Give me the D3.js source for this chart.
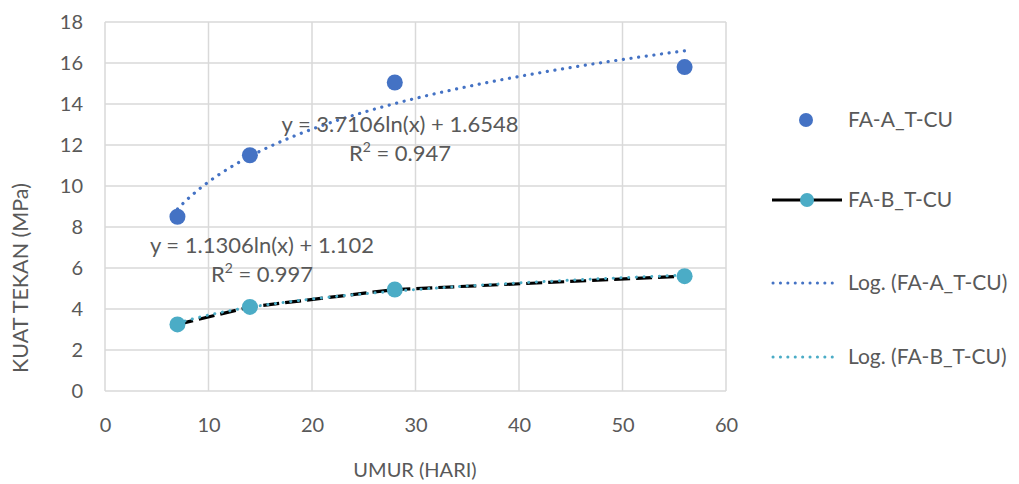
<!DOCTYPE html>
<html>
<head>
<meta charset="utf-8">
<script src="https://cdn.jsdelivr.net/npm/d3@7"></script>
<style>
  body { margin: 0; background: #fff; }
  text { font-family: Lato, "Open Sans", sans-serif; fill: #595959; }
</style>
</head>
<body>
<div class="chart"></div>
<script>
// Data
var days = [7, 14, 28, 56];
var faA = [8.5, 11.5, 15.05, 15.8];
var faB = [3.25, 4.1, 4.95, 5.6];
var xTicks = [0, 10, 20, 30, 40, 50, 60];
var yTicks = [0, 2, 4, 6, 8, 10, 12, 14, 16, 18];
// trendline coefficients shown on the chart: y = a ln(x) + b
var trendA = [3.7106, 1.6548];
var trendB = [1.1306, 1.102];
var legendNames = ["FA-A_T-CU", "FA-B_T-CU", "Log. (FA-A_T-CU)", "Log. (FA-B_T-CU)"];

(function () {
    var width = 1019, height = 484;
    var blue = "#4472C4", cyan = "#4BACC6";

    var svg = d3.select(".chart").append("svg")
        .attr("width", width).attr("height", height);

    var x = d3.scaleLinear().domain([0, 60]).range([105, 726]);
    var y = d3.scaleLinear().domain([0, 18]).range([391, 22]);

    // gridlines
    var grid = svg.append("g").attr("stroke", "#d9d9d9").attr("stroke-width", 1.5);
    grid.selectAll(".h").data(yTicks).enter().append("line")
        .attr("x1", x(0)).attr("x2", x(60))
        .attr("y1", function (d) { return y(d); })
        .attr("y2", function (d) { return y(d); });
    grid.selectAll(".v").data(xTicks).enter().append("line")
        .attr("y1", y(0)).attr("y2", y(18))
        .attr("x1", function (d) { return x(d); })
        .attr("x2", function (d) { return x(d); });

    // axes (labels only, Excel style)
    var xAxis = svg.append("g").attr("transform", "translate(0," + y(0) + ")")
        .call(d3.axisBottom(x).tickValues(xTicks).tickSize(0).tickPadding(27));
    var yAxis = svg.append("g").attr("transform", "translate(" + x(0) + ",0)")
        .call(d3.axisLeft(y).tickValues(yTicks).tickSize(0).tickPadding(22));
    [xAxis, yAxis].forEach(function (a) {
        a.select(".domain").remove();
        a.selectAll("text").style("font-size", "20px").attr("fill", "#595959")
            .style("font-family", "Lato, 'Open Sans', sans-serif");
    });

    svg.append("text").attr("x", 415).attr("y", 477).attr("text-anchor", "middle")
        .style("font-size", "20px").text("UMUR (HARI)");
    svg.append("text").attr("transform", "translate(28,278) rotate(-90)")
        .attr("text-anchor", "middle").style("font-size", "21.5px").text("KUAT TEKAN (MPa)");

    // trend curves
    function trendPts(c) {
        return d3.range(7, 56.01, 0.5).map(function (t) {
            return [t, c[0] * Math.log(t) + c[1]];
        });
    }
    var line = d3.line()
        .x(function (d) { return x(d[0]); })
        .y(function (d) { return y(d[1]); });

    // FA-B connecting line (black)
    var ptsB = days.map(function (d, i) { return [d, faB[i]]; });
    svg.append("path").attr("d", line(ptsB)).attr("fill", "none")
        .attr("stroke", "#000").attr("stroke-width", 3.2)
        .attr("stroke-dasharray", "16,6");

    svg.append("path").attr("d", line(trendPts(trendA))).attr("fill", "none")
        .attr("stroke", blue).attr("stroke-width", 3.2)
        .attr("stroke-linecap", "round").attr("stroke-dasharray", "0.1,7.6");
    svg.append("path").attr("d", line(trendPts(trendB))).attr("fill", "none")
        .attr("stroke", cyan).attr("stroke-width", 3)
        .attr("stroke-linecap", "round").attr("stroke-dasharray", "0.1,7.6");

    // markers
    svg.append("g").selectAll("circle").data(faA).enter().append("circle")
        .attr("cx", function (d, i) { return x(days[i]); })
        .attr("cy", function (d) { return y(d); })
        .attr("r", 8).attr("fill", blue);
    svg.append("g").selectAll("circle").data(faB).enter().append("circle")
        .attr("cx", function (d, i) { return x(days[i]); })
        .attr("cy", function (d) { return y(d); })
        .attr("r", 8).attr("fill", cyan);

    // equation labels
    function eqLabel(cx, by, c, r2) {
        svg.append("text").attr("x", cx).attr("y", by).attr("text-anchor", "middle")
            .style("font-size", "22px")
            .text("y = " + c[0] + "ln(x) + " + c[1]);
        var t = svg.append("text").attr("x", cx).attr("y", by + 29).attr("text-anchor", "middle")
            .style("font-size", "22px");
        t.append("tspan").text("R");
        t.append("tspan").attr("dy", -9).style("font-size", "14px").text("2");
        t.append("tspan").attr("dy", 9).text(" = " + r2);
    }
    eqLabel(400, 132, trendA, "0.947");
    eqLabel(262, 253, trendB, "0.997");

    // legend
    var lg = svg.append("g");
    var ly = [120, 200, 283, 357];
    lg.selectAll("text").data(legendNames).enter().append("text")
        .attr("x", 848).attr("y", function (d, i) { return ly[i] + 7; })
        .style("font-size", "21px").text(function (d) { return d; });
    lg.append("circle").attr("cx", 806).attr("cy", ly[0]).attr("r", 7).attr("fill", blue);
    lg.append("line").attr("x1", 772).attr("x2", 842).attr("y1", ly[1]).attr("y2", ly[1])
        .attr("stroke", "#000").attr("stroke-width", 3.2);
    lg.append("circle").attr("cx", 807).attr("cy", ly[1]).attr("r", 7).attr("fill", cyan);
    lg.append("line").attr("x1", 773).attr("x2", 838).attr("y1", ly[2]).attr("y2", ly[2])
        .attr("stroke", blue).attr("stroke-width", 3).attr("stroke-linecap", "round")
        .attr("stroke-dasharray", "0.1,7.3");
    lg.append("line").attr("x1", 773).attr("x2", 838).attr("y1", ly[3]).attr("y2", ly[3])
        .attr("stroke", cyan).attr("stroke-width", 3).attr("stroke-linecap", "round")
        .attr("stroke-dasharray", "0.1,7.3");
})();
</script>
</body>
</html>
